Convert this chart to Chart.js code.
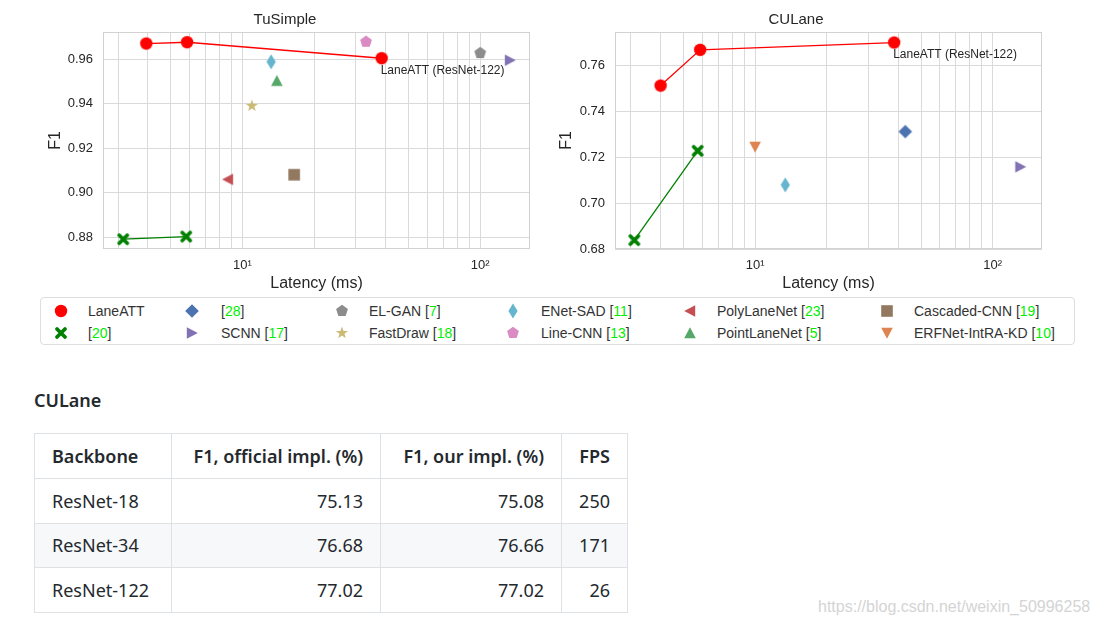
<!DOCTYPE html>
<html lang="en">
<head>
  <meta charset="UTF-8">
  <title>LaneATT latency vs F1</title>
  <style>
    body {
      margin: 0;
      width: 1099px;
      height: 627px;
      overflow: hidden;
      position: relative;
      background: #fff;
      font-family: "Liberation Sans", Arial, sans-serif;
    }
    .plot { position: absolute; top: 0; }
    #legend {
      position: absolute;
      left: 40px;
      top: 297px;
      width: 1033px;
      height: 46px;
      border: 1px solid #dedede;
      border-radius: 4px;
    }
    .legend-mark { position: absolute; width: 20px; height: 20px; }
    .legend-text {
      position: absolute;
      font-size: 14px;
      line-height: 20px;
      color: #333;
      white-space: nowrap;
    }
    .legend-text .ref { color: #00ee00; }
    #heading {
      position: absolute;
      left: 34px;
      top: 388px;
      margin: 0;
      font-family: "Noto Sans", sans-serif;
      font-size: 18px;
      font-weight: 600;
      color: #24292e;
    }
    #results {
      position: absolute;
      left: 34px;
      top: 433px;
      border-collapse: collapse;
      font-family: "Noto Sans", sans-serif;
      font-size: 18px;
      color: #24292e;
    }
    #results th, #results td {
      border: 1px solid #dfe2e5;
      padding: 0 17px;
      height: 43.75px;
      text-align: right;
    }
    #results th { font-weight: 600; }
    #results th:first-child, #results td:first-child { text-align: left; }
    #results tbody tr:nth-child(2) { background: #f6f8fa; }
    #watermark {
      position: absolute;
      left: 818px;
      top: 598px;
      font-size: 16px;
      color: #d4d4d4;
    }
  </style>
  <script src="https://cdn.jsdelivr.net/npm/chart.js"></script>
</head>
<body>
  <canvas id="tusimple" class="plot" width="500" height="295" style="left:40px"></canvas>
  <canvas id="culane" class="plot" width="500" height="295" style="left:550px"></canvas>
  <div id="legend"></div>

  <h3 id="heading">CULane</h3>
  <table id="results">
    <colgroup>
      <col style="width:137px"><col style="width:209px"><col style="width:181px"><col style="width:66px">
    </colgroup>
    <thead><tr id="headRow"></tr></thead>
    <tbody id="bodyRows"></tbody>
  </table>
  <div id="watermark">https://blog.csdn.net/weixin_50996258</div>

  <script>
    // methods in legend order (matplotlib fills the legend column by column)
    const methods = ['LaneATT', '[20]', '[28]', 'SCNN', 'EL-GAN', 'FastDraw', 'ENet-SAD', 'Line-CNN', 'PolyLaneNet', 'PointLaneNet', 'Cascaded-CNN', 'ERFNet-IntRA-KD'];
    const refs = ['', '20', '28', '17', '7', '18', '11', '13', '23', '5', '19', '10'];
    const colors = ['#ff0000', '#008000', '#4c72b0', '#8172b3', '#8c8c8c', '#ccb974', '#64b5cd', '#da8bc3', '#c44e52', '#55a868', '#937860', '#dd8452'];
    const shapes = ['circle', 'x', 'diamond', 'triRight', 'pentagon', 'star', 'thinDiamond', 'pentagon', 'triLeft', 'triUp', 'square', 'triDown'];

    // TuSimple (latency in ms, F1)
    const tuLaneattLatency = [3.94, 5.85, 38.5];
    const tuLaneattF1 = [0.9671, 0.9677, 0.9605];
    const tuRef20Latency = [3.15, 5.8];
    const tuRef20F1 = [0.8791, 0.8803];
    const tuOthers = ['SCNN', 'EL-GAN', 'FastDraw', 'ENet-SAD', 'Line-CNN', 'PolyLaneNet', 'PointLaneNet', 'Cascaded-CNN'];
    const tuOthersLatency = [133.5, 100, 10.95, 13.2, 33.1, 8.68, 13.95, 16.5];
    const tuOthersF1 = [0.9596, 0.9628, 0.9391, 0.9589, 0.9679, 0.9060, 0.9504, 0.9081];

    // CULane
    const cuLaneattLatency = [4.0, 5.87, 38.5];
    const cuLaneattF1 = [0.7514, 0.7670, 0.7702];
    const cuRef20Latency = [3.1, 5.73];
    const cuRef20F1 = [0.6839, 0.7229];
    const cuOthers = ['[28]', 'SCNN', 'ENet-SAD', 'ERFNet-IntRA-KD'];
    const cuOthersLatency = [42.9, 131, 13.4, 10.0];
    const cuOthersF1 = [0.7313, 0.7159, 0.7080, 0.7246];

    // axes
    const tuXRange = [2.59, 162];
    const tuYRange = [0.8747, 0.9723];
    const cuXRange = [2.57, 161.5];
    const cuYRange = [0.68, 0.7748];
    const xTickValues = [3, 4, 5, 6, 7, 8, 9, 10, 20, 30, 40, 50, 60, 70, 80, 90, 100];
    const xTickLabels = ['', '', '', '', '', '', '', '10¹', '', '', '', '', '', '', '', '', '10²'];
    const tuYTicks = [0.88, 0.90, 0.92, 0.94, 0.96];
    const cuYTicks = [0.68, 0.70, 0.72, 0.74, 0.76];

    // table
    const tableHeaders = ['Backbone', 'F1, official impl. (%)', 'F1, our impl. (%)', 'FPS'];
    const backbones = ['ResNet-18', 'ResNet-34', 'ResNet-122'];
    const f1Official = ['75.13', '76.68', '77.02'];
    const f1Ours = ['75.08', '76.66', '77.02'];
    const fps = ['250', '171', '26'];

    const FONT = '"Liberation Sans", Arial, sans-serif';
    const INK = '#262626';
    const GRID = '#dadada';
    Chart.defaults.font.family = FONT;

    function poly(g, pts) {
      g.moveTo(pts[0][0], pts[0][1]);
      for (let i = 1; i < pts.length; i++) g.lineTo(pts[i][0], pts[i][1]);
      g.closePath();
    }

    function regular(n, r, rInner) {
      const pts = [];
      const step = rInner ? Math.PI / n : 2 * Math.PI / n;
      const count = rInner ? n * 2 : n;
      for (let i = 0; i < count; i++) {
        const rr = rInner && i % 2 ? rInner : r;
        const a = -Math.PI / 2 + i * step;
        pts.push([rr * Math.cos(a), rr * Math.sin(a)]);
      }
      return pts;
    }

    // marker images, used by the charts and by the legend
    function makeMarker(shape, color) {
      const c = document.createElement('canvas');
      c.width = 20;
      c.height = 20;
      const g = c.getContext('2d');
      g.translate(10, 10);
      g.fillStyle = color;
      g.strokeStyle = color;
      g.beginPath();
      const tri = [[0, -5.8], [5.8, 5.2], [-5.8, 5.2]];
      if (shape === 'circle') {
        g.arc(0, 0, 6.2, 0, Math.PI * 2);
      } else if (shape === 'x') {
        g.lineWidth = 3.8;
        g.lineCap = 'round';
        g.moveTo(-4, -4); g.lineTo(4, 4);
        g.moveTo(-4, 4); g.lineTo(4, -4);
        g.stroke();
        return c;
      } else if (shape === 'diamond') {
        poly(g, [[0, -6.8], [6.8, 0], [0, 6.8], [-6.8, 0]]);
      } else if (shape === 'thinDiamond') {
        poly(g, [[0, -7.6], [4.6, 0], [0, 7.6], [-4.6, 0]]);
      } else if (shape === 'pentagon') {
        poly(g, regular(5, 6.2));
      } else if (shape === 'star') {
        poly(g, regular(5, 6.4, 2.6));
      } else if (shape === 'square') {
        g.rect(-5.8, -5.8, 11.6, 11.6);
      } else {
        const rot = { triUp: 0, triRight: 90, triDown: 180, triLeft: -90 }[shape];
        g.rotate(rot * Math.PI / 180);
        poly(g, tri);
      }
      g.fill();
      return c;
    }

    const markers = {};
    methods.forEach((m, i) => { markers[m] = makeMarker(shapes[i], colors[i]); });
    const colorOf = m => colors[methods.indexOf(m)];

    function buildDatasets(laLat, laF1, r20Lat, r20F1, others, othLat, othF1) {
      const ds = [
        {
          label: 'LaneATT',
          data: laLat.map((x, i) => ({ x, y: laF1[i] })),
          showLine: true,
          borderColor: colorOf('LaneATT'),
          borderWidth: 1.3,
          pointStyle: markers['LaneATT']
        },
        {
          label: '[20]',
          data: r20Lat.map((x, i) => ({ x, y: r20F1[i] })),
          showLine: true,
          borderColor: colorOf('[20]'),
          borderWidth: 1.3,
          pointStyle: markers['[20]']
        }
      ];
      others.forEach((m, i) => {
        ds.push({
          label: m,
          data: [{ x: othLat[i], y: othF1[i] }],
          pointStyle: markers[m]
        });
      });
      return ds;
    }

    const framePlugin = {
      id: 'frame',
      beforeDatasetsDraw(chart) {
        const a = chart.chartArea;
        const ctx = chart.ctx;
        ctx.save();
        ctx.strokeStyle = '#d2d2d2';
        ctx.lineWidth = 1;
        ctx.strokeRect(Math.round(a.left) + 0.5, Math.round(a.top) + 0.5,
          Math.round(a.right - a.left) - 1, Math.round(a.bottom - a.top) - 1);
        ctx.restore();
      }
    };

    // text under the ResNet-122 LaneATT point
    const pointLabel = {
      id: 'pointLabel',
      afterDatasetsDraw(chart) {
        const pt = chart.getDatasetMeta(0).data[2];
        const ctx = chart.ctx;
        ctx.save();
        ctx.font = '12px ' + FONT;
        ctx.fillStyle = INK;
        ctx.textAlign = 'left';
        ctx.textBaseline = 'middle';
        ctx.fillText('LaneATT (' + backbones[2] + ')', pt.x - 1, pt.y + 12.5);
        ctx.restore();
      }
    };

    function makeChart(id, title, datasets, xRange, yRange, yTicks, yWidth, yTitlePad, rightPad) {
      return new Chart(document.getElementById(id), {
        type: 'scatter',
        data: { datasets },
        options: {
          responsive: false,
          animation: false,
          layout: { padding: { right: rightPad } },
          plugins: {
            legend: { display: false },
            tooltip: { enabled: false },
            title: {
              display: true,
              text: title,
              color: INK,
              font: { size: 15, weight: 'normal' },
              padding: { top: 11, bottom: 3 }
            }
          },
          scales: {
            x: {
              type: 'logarithmic',
              min: xRange[0],
              max: xRange[1],
              afterBuildTicks: s => { s.ticks = xTickValues.map(v => ({ value: v })); },
              afterFit: s => { s.height = 46; },
              grid: { color: GRID, drawTicks: false },
              border: { display: false },
              ticks: {
                autoSkip: false,
                maxRotation: 0,
                padding: 9,
                color: INK,
                font: { size: 13 },
                callback: v => xTickLabels[xTickValues.indexOf(v)]
              },
              title: {
                display: true,
                text: 'Latency (ms)',
                color: INK,
                font: { size: 16 },
                padding: { top: 0, bottom: 1.5 }
              }
            },
            y: {
              min: yRange[0],
              max: yRange[1],
              afterBuildTicks: s => { s.ticks = yTicks.map(v => ({ value: v })); },
              afterFit: s => { s.width = yWidth; },
              grid: { color: GRID, drawTicks: false },
              border: { display: false },
              ticks: {
                padding: 10,
                color: INK,
                font: { size: 13 },
                callback: v => v.toFixed(2)
              },
              title: {
                display: true,
                text: 'F1',
                color: INK,
                font: { size: 16 },
                padding: { top: yTitlePad, bottom: 0 }
              }
            }
          }
        },
        plugins: [framePlugin, pointLabel]
      });
    }

    makeChart('tusimple', 'TuSimple',
      buildDatasets(tuLaneattLatency, tuLaneattF1, tuRef20Latency, tuRef20F1, tuOthers, tuOthersLatency, tuOthersF1),
      tuXRange, tuYRange, tuYTicks, 63, 5.5, 10);
    makeChart('culane', 'CULane',
      buildDatasets(cuLaneattLatency, cuLaneattF1, cuRef20Latency, cuRef20F1, cuOthers, cuOthersLatency, cuOthersF1),
      cuXRange, cuYRange, cuYTicks, 65, 6.5, 8);

    // shared legend, 2 rows x 6 columns
    const legendMarkX = [20, 151, 301, 472, 649, 846];
    const legendTextX = [47, 180, 328, 500, 676, 873];
    const legendRowY = [13, 35];
    const legend = document.getElementById('legend');
    methods.forEach((m, i) => {
      const col = Math.floor(i / 2);
      const row = i % 2;
      const mark = document.createElement('canvas');
      mark.width = 20;
      mark.height = 20;
      mark.className = 'legend-mark';
      mark.style.left = (legendMarkX[col] - 10) + 'px';
      mark.style.top = (legendRowY[row] - 10) + 'px';
      mark.getContext('2d').drawImage(markers[m], 0, 0);
      legend.appendChild(mark);

      const text = document.createElement('span');
      text.className = 'legend-text';
      text.style.left = legendTextX[col] + 'px';
      text.style.top = (legendRowY[row] - 10) + 'px';
      const name = m.startsWith('[') ? '' : m;
      text.innerHTML = refs[i]
        ? (name ? name + ' ' : '') + '[<span class="ref">' + refs[i] + '</span>]'
        : name;
      legend.appendChild(text);
    });

    // results table
    const headRow = document.getElementById('headRow');
    tableHeaders.forEach(h => {
      const th = document.createElement('th');
      th.textContent = h;
      headRow.appendChild(th);
    });
    const bodyRows = document.getElementById('bodyRows');
    backbones.forEach((b, i) => {
      const tr = document.createElement('tr');
      [b, f1Official[i], f1Ours[i], fps[i]].forEach(v => {
        const td = document.createElement('td');
        td.textContent = v;
        tr.appendChild(td);
      });
      bodyRows.appendChild(tr);
    });
  </script>
</body>
</html>
